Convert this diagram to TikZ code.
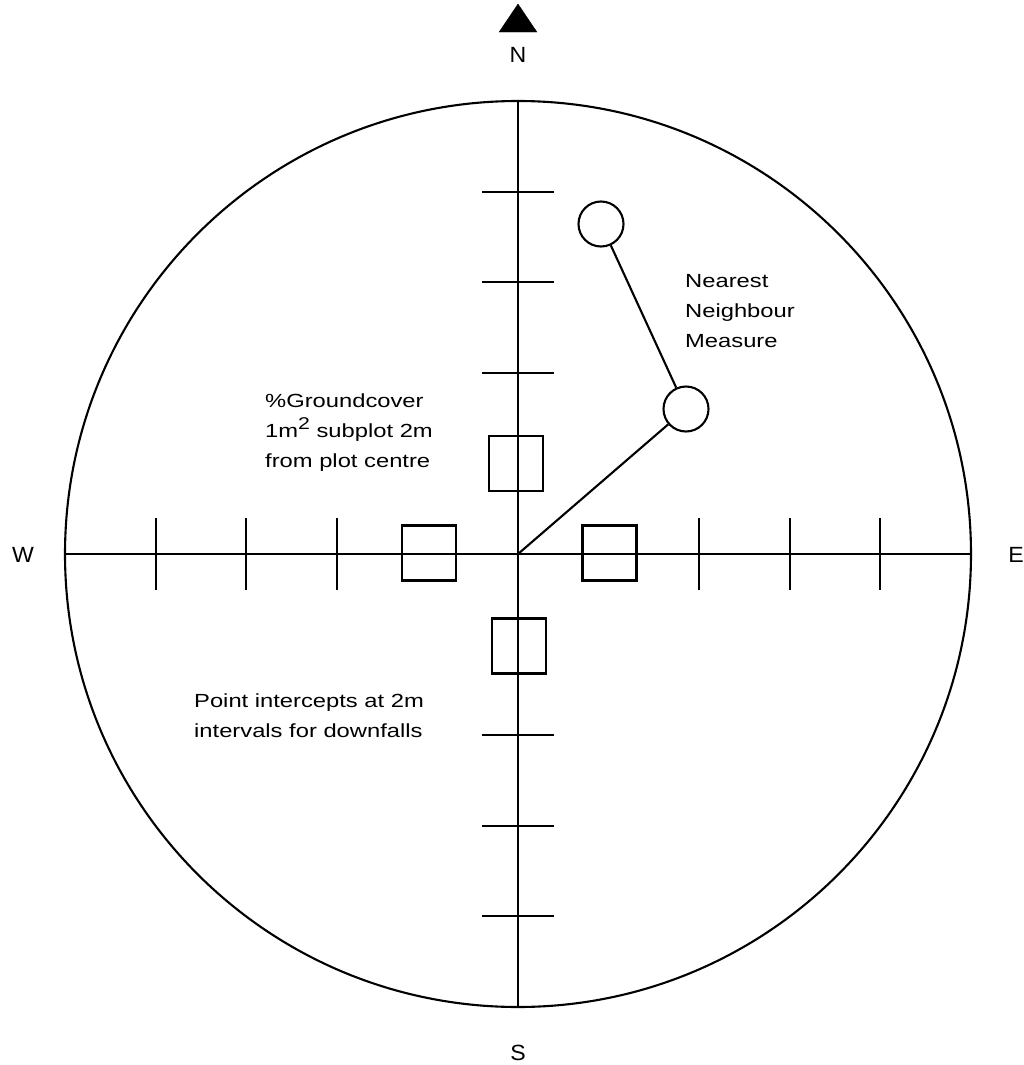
\documentclass[tikz,border=0pt]{standalone}
\usepackage{fontspec}
\setmainfont{Liberation Sans}
\newfontfamily\lblfont[FakeStretch=1.25]{Liberation Sans}
\newfontfamily\dirfont[FakeStretch=1.05]{Liberation Sans}
\usetikzlibrary{calc,shapes.geometric}
\begin{document}
\begin{tikzpicture}[x=1pt,y=-1pt,
  line/.style={line width=2.1pt},
  subbox/.style={draw,line width=2.1pt,minimum width=54pt,minimum height=55pt,inner sep=0pt},
  tree/.style={draw,circle,line width=2.1pt,minimum size=45pt,inner sep=0pt,fill=white},
  lbl/.style={font=\lblfont\fontsize{19}{30}\selectfont,inner sep=0pt,align=left},
  dir/.style={font=\dirfont\fontsize{22}{22}\selectfont,inner sep=0pt}]
\useasboundingbox (0,0) rectangle (1024,1065);
\coordinate (c) at (518,554);
\node[draw,circle,line width=2.1pt,minimum size=906pt,inner sep=0pt] (plot) at (c) {};
% axes
\draw[line] (plot.north) -- (plot.south);
\draw[line] (plot.west) -- (plot.east);
% ticks
\foreach \k in {2,3,4}{
  \draw[line] ($(c)+(-90.6*\k,-36)$) -- ($(c)+(-90.6*\k,36)$);
  \draw[line] ($(c)+(90.6*\k,-36)$) -- ($(c)+(90.6*\k,36)$);
  \draw[line] ($(c)+(-36,-90.6*\k)$) -- ($(c)+(36,-90.6*\k)$);
  \draw[line] ($(c)+(-36,90.6*\k)$) -- ($(c)+(36,90.6*\k)$);
}
% subplots
\node[subbox] (bn) at ($(c)+(-2,-90.6)$) {};
\node[subbox] (bs) at ($(c)+(1,92)$) {};
\node[subbox] (bw) at ($(c)+(-89,-1)$) {};
\node[subbox] (be) at ($(c)+(91.5,-1)$) {};
% nearest neighbour
\node[tree] (t2) at (686,409) {};
\node[tree] (t1) at (601,224) {};
\draw[line] (c) -- (t2);
\draw[line] (t2) -- (t1);
% north arrow
\node[fill=black,draw=black,isosceles triangle,isosceles triangle apex angle=68,shape border rotate=90,minimum height=28pt,inner sep=0pt] (arrow) at (518,22) {};
\node[dir] (N) at (518,55) {N};
\node[dir] (S) at (518,1053) {S};
\node[dir] (W) at (23,555) {W};
\node[dir] (E) at (1016,555) {E};
% labels
\node[lbl,anchor=west] (nn) at (685,311) {Nearest\\Neighbour\\Measure};
\node[lbl,anchor=west] (gc) at (265,433) {\%Groundcover\\1m\raisebox{0.42em}{\fontsize{17}{17}\selectfont 2} subplot 2m\\from plot centre};
\node[lbl,anchor=west] (pi) at (194,716) {Point intercepts at 2m\\intervals for downfalls};
\end{tikzpicture}
\end{document}
